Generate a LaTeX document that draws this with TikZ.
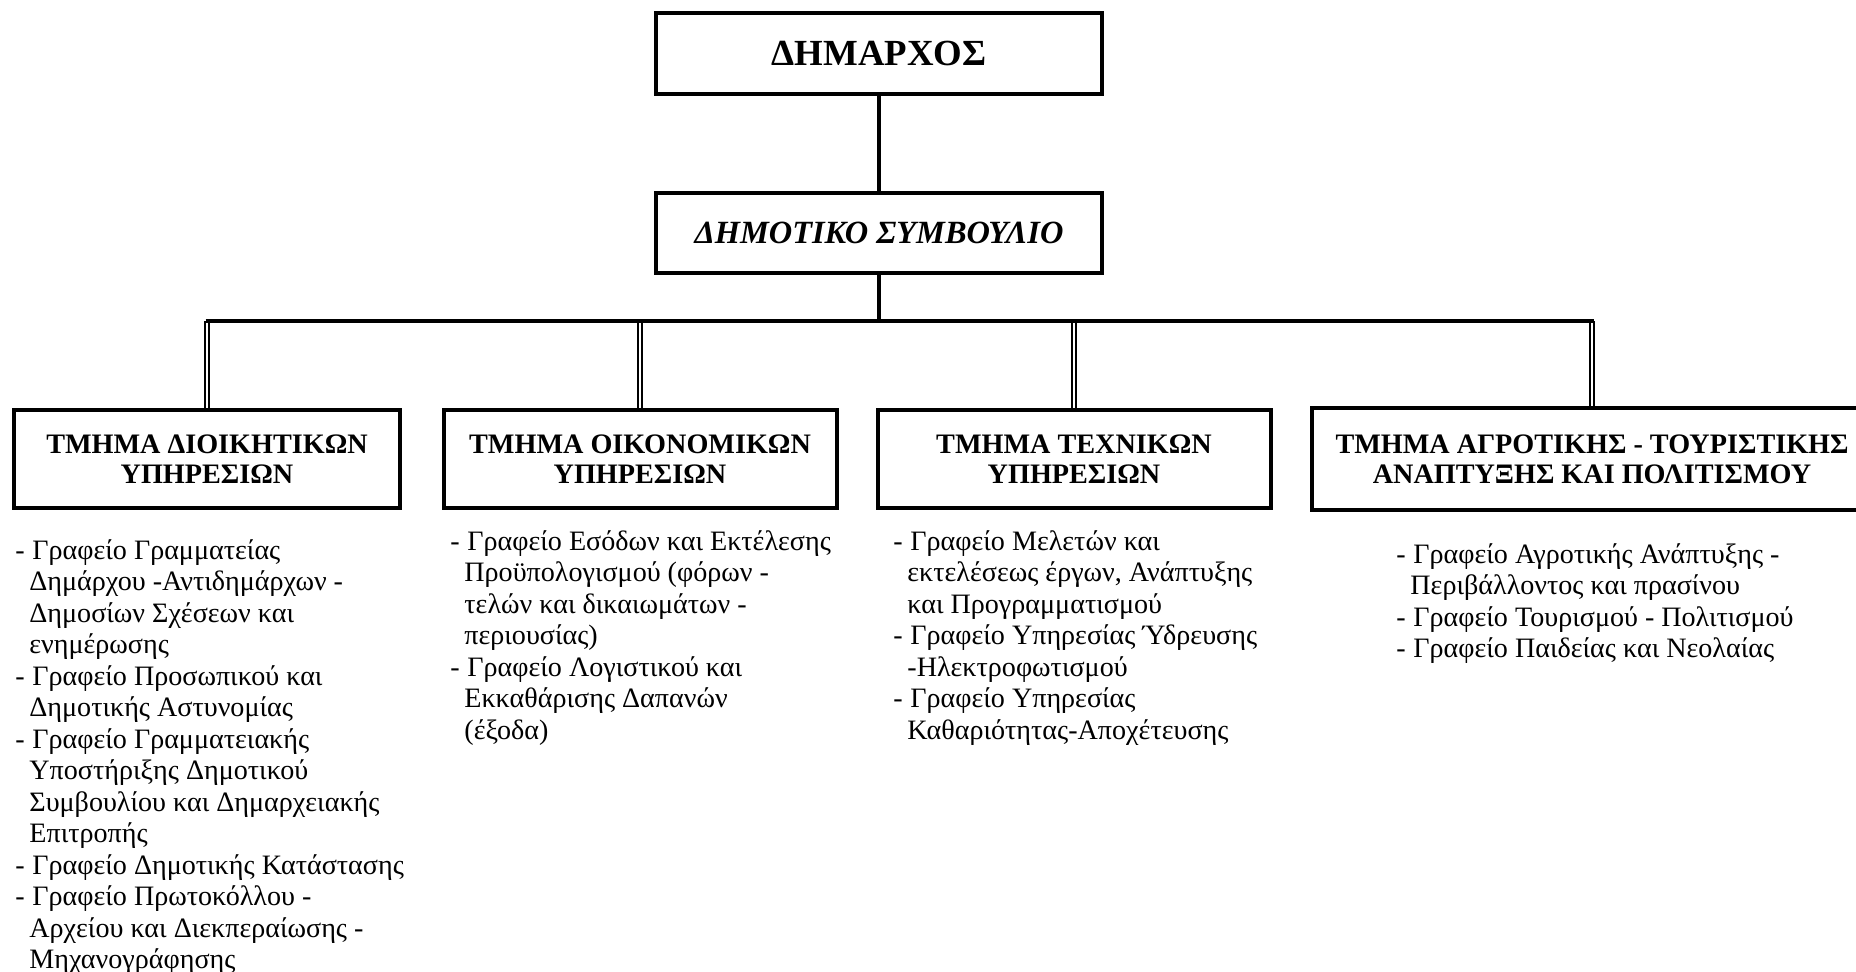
\documentclass[tikz,border=0pt]{standalone}
\usepackage{fontspec}
\setmainfont{Liberation Serif}
\pgfdeclarelayer{bg}
\pgfsetlayers{bg,main}
\newcommand\myitem{\makebox[8.5pt][l]{-}}
\newcommand\myind{\hspace*{7pt}}
\begin{document}
\begin{tikzpicture}[x=0.5pt,y=-0.5pt,
  boxline/.style={draw=black, line width=2pt},
  topbox/.style={boxline, minimum width=223pt, inner sep=0pt, align=center},
  deptbox/.style={boxline, minimum height=49pt, inner sep=0pt, align=center,
    font=\fontsize{14.1pt}{15pt}\selectfont\bfseries},
  conn/.style={draw=black, line width=2pt},
  dbl/.style={draw=black, line width=0.8pt, double=white, double distance=1.1pt},
  bodytext/.style={anchor=north west, inner sep=0pt, align=left,
    font=\fontsize{14.05pt}{15.75pt}\selectfont}]
\useasboundingbox (0,0) rectangle (1856,971);

% top boxes
\node[topbox, minimum height=40.5pt, font=\fontsize{18.4pt}{20pt}\selectfont\bfseries]
  (chief) at (879,53.5) {ΔΗΜΑΡΧΟΣ};
\node[topbox, minimum height=40pt, font=\fontsize{16.2pt}{18pt}\selectfont\bfseries\itshape]
  (council) at (879,233) {ΔΗΜΟΤΙΚΟ ΣΥΜΒΟΥΛΙΟ};

% department boxes
\node[deptbox, minimum width=193pt] (d1) at (207,459) {ΤΜΗΜΑ ΔΙΟΙΚΗΤΙΚΩΝ\\ΥΠΗΡΕΣΙΩΝ};
\node[deptbox, minimum width=196.5pt] (d2) at (640,459) {ΤΜΗΜΑ ΟΙΚΟΝΟΜΙΚΩΝ\\ΥΠΗΡΕΣΙΩΝ};
\node[deptbox, minimum width=196.5pt] (d3) at (1074,459) {ΤΜΗΜΑ ΤΕΧΝΙΚΩΝ\\ΥΠΗΡΕΣΙΩΝ};
\node[deptbox, draw=none, minimum width=278pt] (d4) at (1592,459) {ΤΜΗΜΑ ΑΓΡΟΤΙΚΗΣ - ΤΟΥΡΙΣΤΙΚΗΣ\\ΑΝΑΠΤΥΞΗΣ ΚΑΙ ΠΟΛΙΤΙΣΜΟΥ};
\draw[boxline] ([xshift=40pt]d4.north east) -- (d4.north west) -- (d4.south west) -- ([xshift=40pt]d4.south east);

% office lists
\node[bodytext] (t1) at (15,537) {\strut\myitem Γραφείο Γραμματείας\\
\myind Δημάρχου -Αντιδημάρχων -\\
\myind Δημοσίων Σχέσεων και\\
\myind ενημέρωσης\\
\myitem Γραφείο Προσωπικού και\\
\myind Δημοτικής Αστυνομίας\\
\myitem Γραφείο Γραμματειακής\\
\myind Υποστήριξης Δημοτικού\\
\myind Συμβουλίου και Δημαρχειακής\\
\myind Επιτροπής\\
\myitem Γραφείο Δημοτικής Κατάστασης\\
\myitem Γραφείο Πρωτοκόλλου -\\
\myind Αρχείου και Διεκπεραίωσης -\\
\myind Μηχανογράφησης};

\node[bodytext] (t2) at (450,528) {\strut\myitem Γραφείο Εσόδων και Εκτέλεσης\\
\myind Προϋπολογισμού (φόρων -\\
\myind τελών και δικαιωμάτων -\\
\myind περιουσίας)\\
\myitem Γραφείο Λογιστικού και\\
\myind Εκκαθάρισης Δαπανών\\
\myind (έξοδα)};

\node[bodytext] (t3) at (893,528) {\strut\myitem Γραφείο Μελετών και\\
\myind εκτελέσεως έργων, Ανάπτυξης\\
\myind και Προγραμματισμού\\
\myitem Γραφείο Υπηρεσίας Ύδρευσης\\
\myind -Ηλεκτροφωτισμού\\
\myitem Γραφείο Υπηρεσίας\\
\myind Καθαριότητας-Αποχέτευσης};

\node[bodytext] (t4) at (1396,541) {\strut\myitem Γραφείο Αγροτικής Ανάπτυξης -\\
\myind Περιβάλλοντος και πρασίνου\\
\myitem Γραφείο Τουρισμού - Πολιτισμού\\
\myitem Γραφείο Παιδείας και Νεολαίας};

% connectors
\begin{pgfonlayer}{bg}
  \fill[white] (0,0) rectangle (1856,971);
  \coordinate (bar) at (879,321);
  \draw[conn] (chief.south) -- (council.north);
  \draw[conn] (council.south) -- (bar);
  \draw[dbl] (d1.north |- bar) -- (d1.north);
  \draw[dbl] (d2.north |- bar) -- (d2.north);
  \draw[dbl] (d3.north |- bar) -- (d3.north);
  \draw[dbl] (d4.north |- bar) -- (d4.north);
  \draw[conn] ([xshift=-0.75pt]d1.north |- bar) -- ([xshift=0.75pt]d4.north |- bar);
\end{pgfonlayer}
\end{tikzpicture}
\end{document}
